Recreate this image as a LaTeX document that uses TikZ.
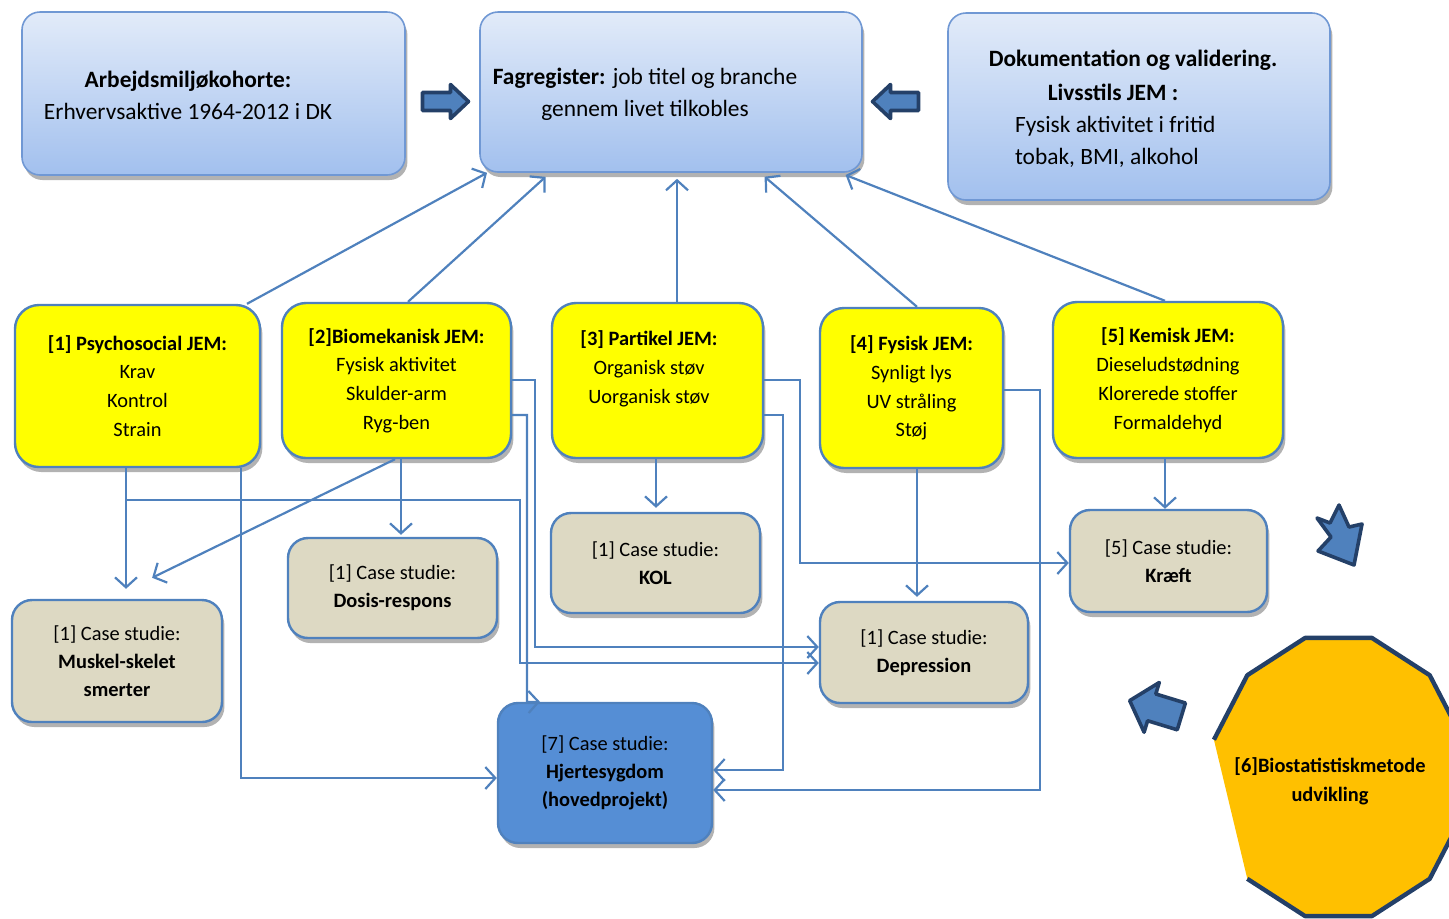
\documentclass[tikz,border=0pt]{standalone}
\usepackage{fontspec}
\setmainfont{Carlito}
\usetikzlibrary{arrows.meta,shadows}

\definecolor{linkblue}{RGB}{79,129,189}
\definecolor{navyedge}{RGB}{36,64,104}
\definecolor{topedge}{RGB}{112,152,212}
\definecolor{toplight}{RGB}{226,235,249}
\definecolor{topdark}{RGB}{162,192,238}
\definecolor{jemyellow}{RGB}{255,255,0}
\definecolor{casegrey}{RGB}{221,217,195}
\definecolor{hjerteblue}{RGB}{85,142,213}
\definecolor{octorange}{RGB}{255,192,0}

\newcommand{\toptxt}{\fontsize{11.7}{16}\selectfont}
\newcommand{\jemtxt}{\fontsize{10.2}{14.4}\selectfont}
\newcommand{\casetxt}{\fontsize{10.2}{14}\selectfont}

\begin{document}
\begin{tikzpicture}[x=0.5pt, y=-0.5pt,
  shadowed/.style={drop shadow={shadow xshift=1.2pt, shadow yshift=-2.5pt, opacity=0.3, fill=black}},
  topbox/.style={shadowed, draw=topedge, line width=0.8pt, rounded corners=9pt,
    top color=toplight, bottom color=topdark},
  jembox/.style={shadowed, draw=linkblue, line width=1.2pt, rounded corners=12pt,
    fill=jemyellow, align=center, font=\jemtxt},
  casebox/.style={shadowed, draw=linkblue, line width=1.2pt, rounded corners=10pt,
    fill=casegrey, align=center, font=\casetxt},
  conn/.style={draw=linkblue, line width=1.1pt, -{Straight Barb[length=5pt,width=11pt]}},
  blockarrow/.style={fill=linkblue, draw=navyedge, line width=1.8pt, line join=round}]
\useasboundingbox (0,0) rectangle (1449,918);
\clip (0,0) rectangle (1449,918);

% top row
\node[topbox, minimum width=191.5pt, minimum height=81.5pt] (kohorte) at (213.5,93.5) {};
\node[font=\toptxt, align=center] (kohortetxt) at (188,95) {\textbf{Arbejdsmiljøkohorte:}\\Erhvervsaktive 1964-2012 i DK};
\node[topbox, minimum width=191pt, minimum height=80pt] (fag) at (671,92) {};
\node[font=\toptxt, align=center] (fagtxt) at (645,94) {\textbf{Fagregister:} job titel og branche\\gennem livet tilkobles};
\node[topbox, minimum width=191pt, minimum height=93.5pt] (dok) at (1139,106.5) {};
\node[font=\toptxt\bfseries] (doktxt1) at (1133,60) {Dokumentation og validering.};
\node[font=\toptxt\bfseries] (doktxt2) at (1113,92) {Livsstils JEM :};
\node[font=\toptxt, align=left, anchor=west] (doktxt3) at (1008,141.5) {Fysisk aktivitet i fritid\\tobak, BMI, alkohol};

\draw[blockarrow, shift={(445.5,101.5)}] (-23,-9) -- (5,-9) -- (5,-17) -- (23,0) -- (5,17) -- (5,9) -- (-23,9) -- cycle;
\draw[blockarrow, shift={(895.5,101.5)}, rotate=180] (-23,-9) -- (5,-9) -- (5,-17) -- (23,0) -- (5,17) -- (5,9) -- (-23,9) -- cycle;

% JEM boxes
\node[jembox, minimum width=122.5pt, minimum height=81pt] (jem1) at (137.5,386) {\textbf{[1] Psychosocial JEM:}\\Krav\\Kontrol\\Strain};
\node[jembox, minimum width=114.5pt, minimum height=77.5pt] (jem2) at (396.5,380.5) {\textbf{[2]Biomekanisk JEM:}\\Fysisk aktivitet\\Skulder-arm\\Ryg-ben};
\node[jembox, minimum width=105.5pt, minimum height=77.5pt] (jem3) at (657.5,380.5) {};
\node[font=\jemtxt, align=center] (jem3txt) at (649,369) {\textbf{[3] Partikel JEM:}\\Organisk støv\\Uorganisk støv};
\node[jembox, minimum width=91.5pt, minimum height=80pt] (jem4) at (911.5,388) {\textbf{[4] Fysisk JEM:}\\Synligt lys\\UV stråling\\Støj};
\node[jembox, minimum width=115pt, minimum height=78pt] (jem5) at (1168,380) {\textbf{[5] Kemisk JEM:}\\Dieseludstødning\\Klorerede stoffer\\Formaldehyd};

% case studies
\node[casebox, minimum width=105pt, minimum height=61pt] (muskel) at (117,661) {[1] Case studie:\\\textbf{Muskel-skelet}\\\textbf{smerter}};
\node[casebox, minimum width=104.5pt, minimum height=50pt] (dosis) at (392.5,588) {[1] Case studie:\\\textbf{Dosis-respons}};
\node[casebox, minimum width=104.5pt, minimum height=50pt] (kol) at (655.5,563) {[1] Case studie:\\\textbf{KOL}};
\node[casebox, minimum width=104pt, minimum height=50.5pt] (dep) at (924,652.5) {[1] Case studie:\\\textbf{Depression}};
\node[casebox, minimum width=98.5pt, minimum height=51pt] (kraeft) at (1168.5,561) {[5] Case studie:\\\textbf{Kræft}};
\node[casebox, fill=hjerteblue, minimum width=107pt, minimum height=70pt] (hjerte) at (605,773) {[7] Case studie:\\\textbf{Hjertesygdom}\\\textbf{(hovedprojekt)}};

% JEM to Fagregister
\draw[conn] (jem1.north -| 247,0) -- (fag.south -| 487,0);
\draw[conn, shorten >=3pt] (jem2.north -| 408,0) -- (fag.south -| 550,0);
\draw[conn, shorten >=3pt] (jem3.north -| 677,0) -- (fag.south -| 677,0);
\draw[conn, shorten >=3pt] (jem4.north -| 917,0) -- (fag.south -| 760,0);
\draw[conn, shorten >=3pt] (jem5.north -| 1165,0) -- (fag.south -| 840,0);

% JEM to case studies
\draw[conn, shorten >=5pt] (jem1.south -| 126,0) -- (muskel.north -| 126,0);
\draw[conn, shorten >=24pt] (jem2.south -| 395,0) -- (muskel.north -| 109,0);
\draw[conn, shorten >=1pt] (jem2.south -| 401,0) -- (dosis.north -| 401,0);
\draw[conn] (jem1.south -| 126,0) |- (520,500) |- (dep.west |- 0,663);
\draw[conn] (jem1.south -| 241,0) |- (hjerte.west |- 0,778);
\draw[conn] (jem2.east |- 0,380) -| (535,647) -- (dep.west |- 0,647);
\draw[conn] (jem2.east |- 0,415) -| (527,702) -- (hjerte.north -| 540,0);
\draw[conn, shorten >=2pt] (jem3.south -| 656,0) -- (kol.north -| 656,0);
\draw[conn] (jem3.east |- 0,380) -| (800,563) -- (kraeft.west |- 0,563);
\draw[conn] (jem3.east |- 0,415) -| (783,770) -- (hjerte.east |- 0,770);
\draw[conn, shorten >=2pt] (jem4.south -| 917,0) -- (dep.north -| 917,0);
\draw[conn] (jem4.east |- 0,390) -| (1040,790) -- (hjerte.east |- 0,790);
\draw[conn] (jem5.south -| 1165,0) -- (kraeft.north -| 1165,0);

% biostatistics
\fill[octorange] (1305.1,637.9) -- (1371.9,637.9) -- (1429.7,675.2) -- (1463.1,739.7) -- (1463.1,814.3) -- (1429.7,878.8) -- (1371.9,916.1) -- (1305.1,916.1) -- (1247.3,878.8) -- (1213.9,739.7) -- (1247.3,675.2) -- cycle;
\draw[draw=navyedge, line width=2.2pt, line join=round] (1247.3,878.8) -- (1305.1,916.1) -- (1371.9,916.1) -- (1429.7,878.8) -- (1463.1,814.3) -- (1463.1,739.7) -- (1429.7,675.2) -- (1371.9,637.9) -- (1305.1,637.9) -- (1247.3,675.2) -- (1213.9,739.7);
\node[font=\jemtxt\bfseries, align=center] (bio) at (1330,781) {[6]Biostatistiskmetode\\udvikling};

\draw[blockarrow] (1339,505) -- (1349,527) -- (1362,524) -- (1354,565) -- (1318,551) -- (1331,537) -- (1317,518) -- (1330,523) -- cycle;
\draw[blockarrow, shift={(1155.5,708.5)}, rotate=163] (-27,-14) -- (4,-14) -- (4,-26) -- (27,0) -- (4,26) -- (4,14) -- (-27,14) -- cycle;
\end{tikzpicture}
\end{document}
